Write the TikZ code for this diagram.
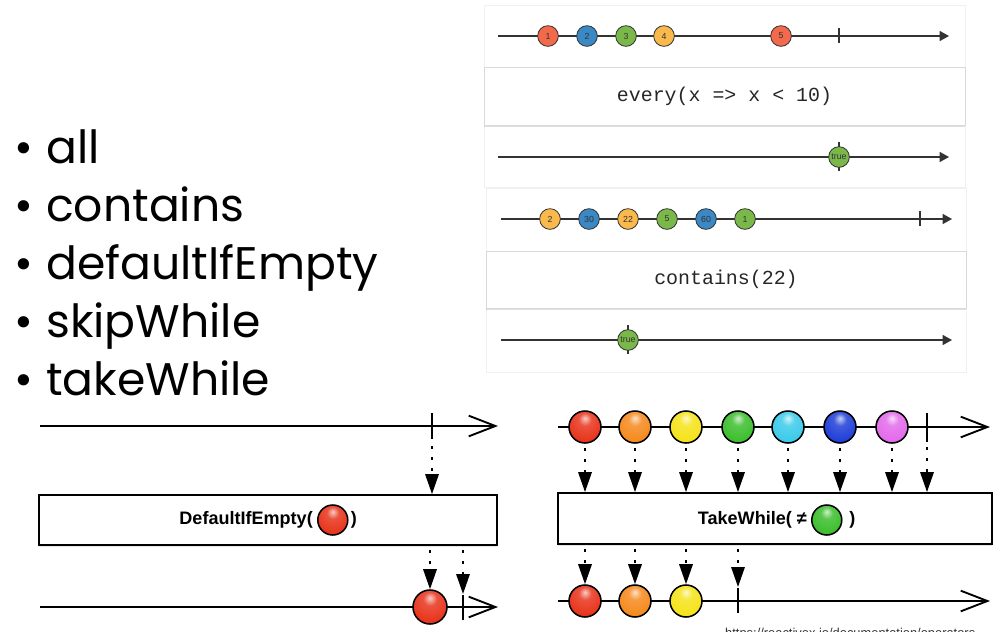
\documentclass[tikz,border=0pt]{standalone}
\usepackage{fontspec}
\setmainfont{Liberation Sans}
\newfontfamily\slidefont{Poppins}
\newfontfamily\codefont{Liberation Mono}
\usetikzlibrary{positioning}
\usetikzlibrary{arrows.meta}
\usetikzlibrary{shadows}
\usetikzlibrary{calc}

\definecolor{mred}{HTML}{F26A4B}
\definecolor{mblue}{HTML}{3A88C4}
\definecolor{mgreen}{HTML}{7BB84A}
\definecolor{myellow}{HTML}{FAB94C}
\definecolor{axisgray}{HTML}{333333}
\definecolor{bred}{HTML}{E8341C}
\definecolor{borange}{HTML}{F58A1F}
\definecolor{byellow}{HTML}{F5E31A}
\definecolor{bgreen}{HTML}{3DBE2E}
\definecolor{bcyan}{HTML}{3CCBEA}
\definecolor{bblue}{HTML}{1F3FD8}
\definecolor{bmagenta}{HTML}{E36BEB}

% glossy marble shading, brighter than the stock ball
\makeatletter
\pgfdeclareradialshading[tikz@ball]{gloss}{\pgfqpoint{0bp}{14bp}}{%
  color(0bp)=(tikz@ball!25!white); color(10bp)=(tikz@ball!85!white);
  color(30bp)=(tikz@ball); color(48bp)=(tikz@ball!80!black); color(70bp)=(tikz@ball!60!black)}
\makeatother

\begin{document}
\begin{tikzpicture}[x=0.03cm, y=-0.03cm,
  flat/.style={circle, draw=axisgray, line width=0.7pt, minimum size=0.62cm, inner sep=0pt, text=black!80, font=\fontsize{7.5}{8}\selectfont},
  ball/.style={circle, draw=black, line width=1.3pt, minimum size=1cm, inner sep=0pt},
  glossy/.style={ball color=#1, shading=gloss},
  opbox/.style={draw=gray!30, fill=white, drop shadow={opacity=0.25, shadow xshift=0pt, shadow yshift=-2pt}},
  bigbox/.style={draw=black, line width=1.5pt, fill=white, drop shadow={opacity=0.2, shadow xshift=0pt, shadow yshift=-2pt}},
  thin axis/.style={draw=axisgray, line width=1.1pt, -{Triangle[length=0.28cm, width=0.3cm]}},
  thick axis/.style={line width=1.7pt, -{Straight Barb[length=0.8cm, width=0.62cm, line width=1.6pt]}},
  feed/.style={line width=1.8pt, dash pattern=on 2.5pt off 7pt, -{Triangle[length=0.6cm, width=0.4cm]}},
  boldlabel/.style={inner sep=0pt, font=\bfseries\fontsize{15.4}{18}\selectfont},
  tight/.style={inner sep=0pt}]

        % Fix the page to the slide
        \path[use as bounding box, clip] (0,0) rectangle (1007,631);
        \fill[white] (0,0) rectangle (1007,631);

        % Bullet list
        \foreach \word [count=\i] in {all, contains, defaultIfEmpty, skipWhile, takeWhile}
        {
          \node[tight, anchor=base west, font=\slidefont\fontsize{39}{46}\selectfont] (bullet\i) at (14, {163 + 58*(\i-1)}) {•};
          \node[tight, anchor=base west, font=\slidefont\fontsize{39}{46}\selectfont] (item\i) at (46, {163 + 58*(\i-1)}) {\word};
        }

        % Panel: every
        \draw[gray!12] (484,5) rectangle (965,187);
        \coordinate (e in start) at (498,36);
        \coordinate (e in end) at (949,36);
        \draw[thin axis] (e in start) -- (e in end);
        \draw[axisgray, line width=0.9pt] (839,28) -- (839,43);
        \foreach \lab/\xx/\col in {1/548/mred, 2/587/mblue, 3/626/mgreen, 4/664/myellow, 5/781/mred}
          \node[flat, fill=\col] (e\lab) at (\xx,36) {\lab};
        \node[opbox, minimum width=14.43cm, minimum height=1.74cm, font=\codefont\fontsize{17}{20}\selectfont, text=black!85] (everybox) at (724.5,96) {every(x => x < 10)};
        \coordinate (e out start) at (498,157);
        \coordinate (e out end) at (949,157);
        \draw[thin axis] (e out start) -- (e out end);
        \draw[axisgray, line width=0.9pt] (839,142) -- (839,171);
        \node[flat, fill=mgreen] (etrue) at (839,157) {true};

        % Panel: contains
        \draw[gray!12] (486,188) rectangle (966,372);
        \coordinate (c in start) at (501,219);
        \coordinate (c in end) at (952,219);
        \draw[thin axis] (c in start) -- (c in end);
        \draw[axisgray, line width=0.9pt] (920,211) -- (920,226);
        \foreach \lab/\xx/\col [count=\i] in {2/550/myellow, 30/589/mblue, 22/628/myellow, 5/667/mgreen, 60/706/mblue, 1/745/mgreen}
          \node[flat, fill=\col] (c\i) at (\xx,219) {\lab};
        \node[opbox, minimum width=14.4cm, minimum height=1.71cm, font=\codefont\fontsize{17}{20}\selectfont, text=black!85] (containsbox) at (726,279.5) {contains(22)};
        \coordinate (c out start) at (501,340);
        \coordinate (c out end) at (952,340);
        \draw[thin axis] (c out start) -- (c out end);
        \draw[axisgray, line width=0.9pt] (628,325) -- (628,354);
        \node[flat, fill=mgreen] (ctrue) at (628,340) {true};

        % DefaultIfEmpty diagram
        \coordinate (d in start) at (40,426);
        \coordinate (d in end) at (498,426);
        \coordinate (dtick) at (432,426);
        \draw[thick axis] (d in start) -- (d in end);
        \draw[line width=1.7pt] ($(dtick)+(0,-13)$) -- ($(dtick)+(0,13)$);
        \node[bigbox, minimum width=13.74cm, minimum height=1.5cm] (dbox) at (268,520) {};
        \node[boldlabel, anchor=east] (dlabel) at (313,520) {DefaultIfEmpty(};
        \node[ball, glossy=bred, minimum size=0.9cm, right=0.12cm of dlabel] (dmarble) {};
        \node[boldlabel, right=0.06cm of dmarble] (dclose) {)};
        \draw[feed] ($(dtick)+(0,20)$) -- (dtick |- dbox.north);

        \coordinate (d out start) at (40,607);
        \coordinate (d out end) at (498,607);
        \coordinate (dend) at (463,607);
        \draw[thick axis] (d out start) -- (d out end);
        \draw[line width=1.7pt] ($(dend)+(0,-12)$) -- ($(dend)+(0,13)$);
        \node[ball, glossy=bred, minimum size=1.02cm] (dout) at (430,607) {};
        \draw[feed] ($(dbox.south -| dout)+(0,4)$) -- (dout.north);
        \draw[feed] ($(dbox.south -| dend)+(0,4)$) -- ($(dend)+(0,-13)$);

        % TakeWhile diagram
        \coordinate (t in start) at (558,427);
        \coordinate (t in end) at (990,427);
        \coordinate (ttick) at (927,427);
        \draw[thick axis] (t in start) -- (t in end);
        \draw[line width=1.7pt] ($(ttick)+(0,-14)$) -- ($(ttick)+(0,15)$);
        \node[bigbox, minimum width=13.02cm, minimum height=1.53cm] (tbox) at (775,518.5) {};
        \node[boldlabel, anchor=east] (tlabel) at (807,520) {TakeWhile( ≠};
        \node[ball, glossy=bgreen, minimum size=0.9cm, right=0.12cm of tlabel] (tmarble) {};
        \node[boldlabel, right=0.2cm of tmarble] (tclose) {)};
        \foreach \col/\xx [count=\i] in {bred/585, borange/635, byellow/686, bgreen/738, bcyan/788, bblue/840, bmagenta/892}
        {
          \node[ball, glossy=\col, minimum size=0.96cm] (t\i) at (\xx,427) {};
          \draw[feed] ($(t\i.south)+(0,4)$) -- (t\i |- tbox.north);
        }
        \draw[feed] ($(ttick)+(0,20)$) -- (ttick |- tbox.north);

        \coordinate (t out start) at (558,601);
        \coordinate (t out end) at (990,601);
        \coordinate (tend) at (738,601);
        \draw[thick axis] (t out start) -- (t out end);
        \draw[line width=1.7pt] ($(tend)+(0,-13)$) -- ($(tend)+(0,12)$);
        \foreach \col/\xx [count=\i] in {bred/585, borange/635, byellow/686}
        {
          \node[ball, glossy=\col, minimum size=0.96cm] (o\i) at (\xx,601) {};
          \draw[feed] ($(tbox.south -| o\i)+(0,4)$) -- (o\i.north);
        }
        \draw[feed] ($(tbox.south -| tend)+(0,4)$) -- ($(tend)+(0,-14)$);

        % Source link, cut by the slide edge
        \node[tight, anchor=base west, font=\fontsize{11}{13}\selectfont, text=black!80] (url) at (725,637) {https://reactivex.io/documentation/operators};
      \end{tikzpicture}
\end{document}
